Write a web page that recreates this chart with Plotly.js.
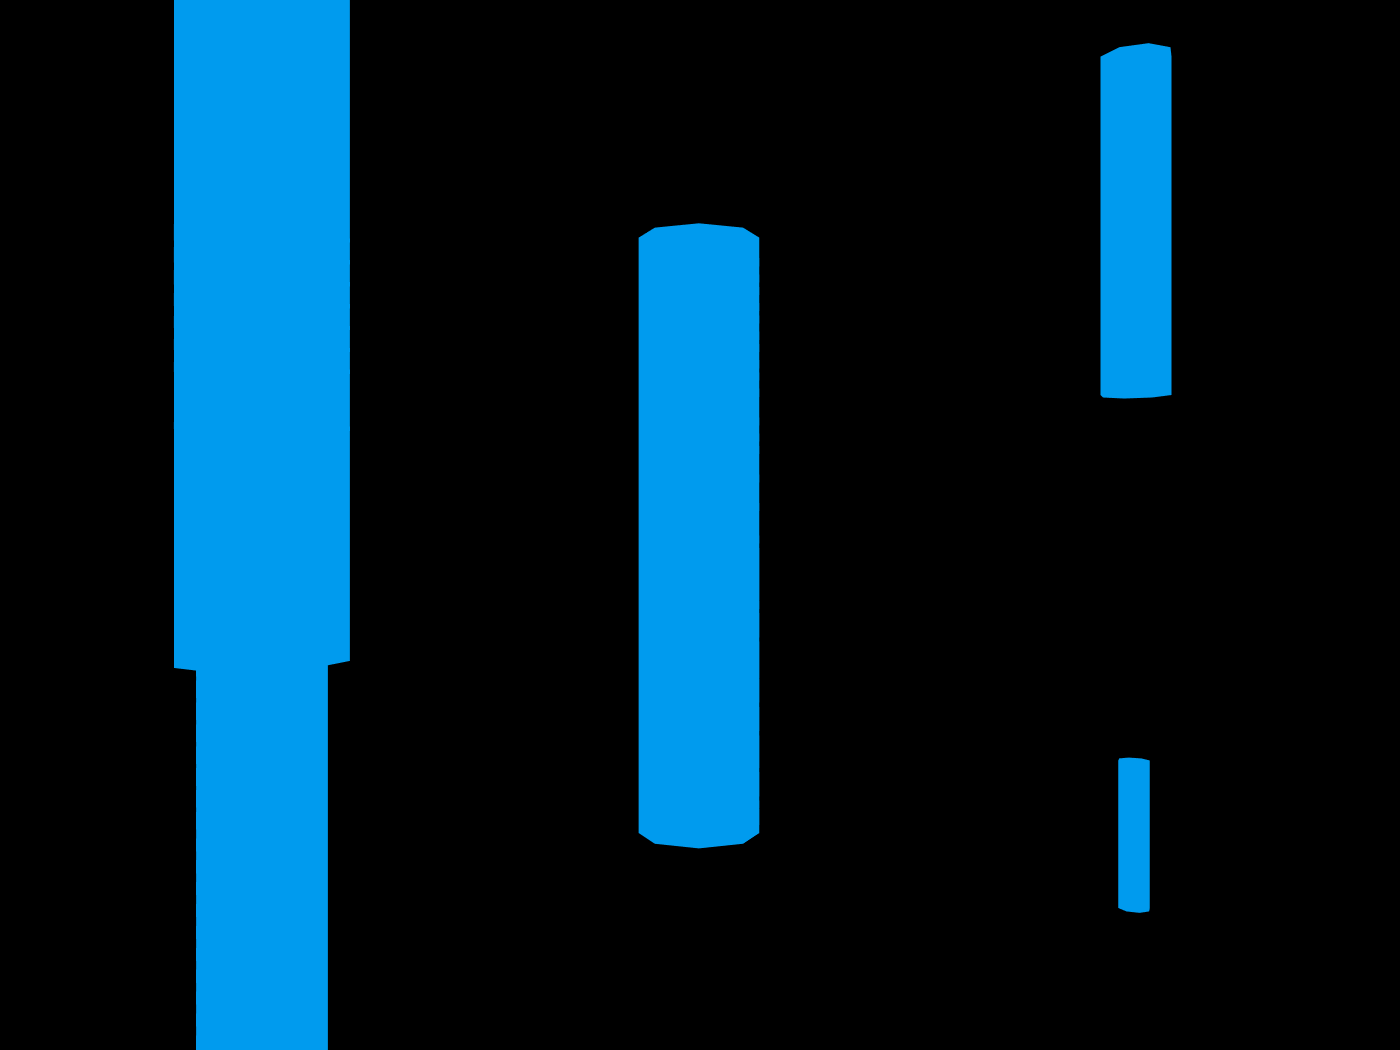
<!DOCTYPE html>
<html>
<head>
<meta charset="utf-8">
<script src="https://cdn.plot.ly/plotly-3.0.1.min.js"></script>
<style>html,body{margin:0;background:#000}#plot{width:1400px;height:1050px}</style>
</head>
<body>
<div id="plot"></div>
<script>
// four vertical streamtubes; grid columns, z levels and upward speed w per tube
var aX = [-5.38, -3.38];
var aY = [-1, 1];
var aZ = [-6, -1.38, 6];
var aW = [1, 1.3465, 2.0845];

var bX = [-1.01, 0.99];
var bY = [-1, 1];
var bZ = [-3.08, 2.90];
var bW = [1, 2];

var cX = [3.36, 5.36];
var cY = [-1, 1];
var cZ = [1.30, 4.70];
var cW = [1, 2];

var dX = [3.34, 5.34];
var dY = [-1, 1];
var dZ = [-3.83, -2.34];
var dW = [1, 2];

// start point of each tube
var startX = [-4.38, -0.01, 4.36, 4.34];
var startZ = [-6, -3.08, 1.30, -3.83];
var tubeSize = [0.1467, 0.1006, 0.0592, 0.0263];

function tube(xs, ys, zs, ws, n) {
  var x = [], y = [], z = [], u = [], v = [], w = [];
  for (var i = 0; i < xs.length; i++)
    for (var j = 0; j < ys.length; j++)
      for (var k = 0; k < zs.length; k++) {
        x.push(xs[i]); y.push(ys[j]); z.push(zs[k]);
        u.push(0); v.push(0); w.push(ws[k]);
      }
  return {
    type: 'streamtube', x: x, y: y, z: z, u: u, v: v, w: w,
    starts: {x: [startX[n]], y: [0], z: [startZ[n]]},
    sizeref: tubeSize[n],
    maxdisplayed: 10000,
    colorscale: [[0, '#009bee'], [1, '#009bee']],
    showscale: false,
    hoverinfo: 'none',
    lighting: {ambient: 1, diffuse: 0, specular: 0, roughness: 1, fresnel: 0}
  };
}

var data = [
  tube(aX, aY, aZ, aW, 0),
  tube(bX, bY, bZ, bW, 1),
  tube(cX, cY, cZ, cW, 2),
  tube(dX, dY, dZ, dW, 3)
];

var layout = {
  paper_bgcolor: '#000',
  margin: {l: 0, r: 0, t: 0, b: 0},
  scene: {
    bgcolor: '#000',
    domain: {x: [0, 1], y: [0, 1]},
    xaxis: {visible: false, range: [-7, 7]},
    yaxis: {visible: false, range: [-7, 7]},
    zaxis: {visible: false, range: [-5.25, 5.25]},
    aspectmode: 'manual',
    aspectratio: {x: 1.3333, y: 0.30, z: 1},
    camera: {eye: {x: 0, y: -1.207, z: 0}, up: {x: 0, y: 0, z: 1}, center: {x: 0, y: 0, z: 0}}
  }
};

Plotly.newPlot('plot', data, layout, {displayModeBar: false});
</script>
</body>
</html>
